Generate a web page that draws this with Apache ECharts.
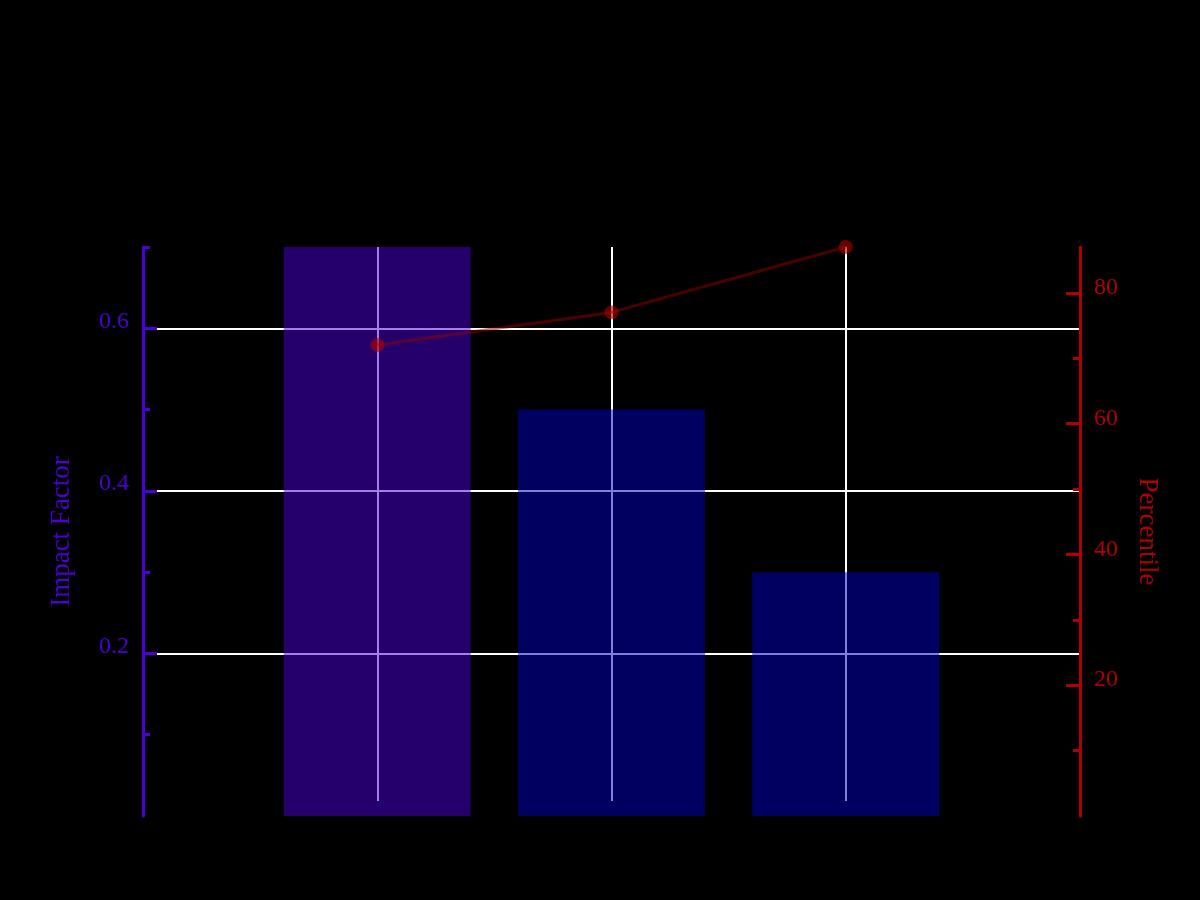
<!DOCTYPE html>
<html>
<head>
<meta charset="utf-8">
<title>Impact Factor vs Percentile</title>
<script src="https://cdn.jsdelivr.net/npm/echarts@6/dist/echarts.min.js"></script>
<style>
  html, body { margin: 0; padding: 0; background: #000; }
  #chart { width: 1200px; height: 900px; }
</style>
</head>
<body>
<div id="chart"></div>
<script>
// x slots of the three bars
const slots = [1, 2, 3];
const impactFactor = [0.7, 0.5, 0.3];
const percentile = [72, 77, 87];
const barColors = ['rgba(76, 0, 212, 0.5)', 'rgba(0, 0, 192, 0.5)', 'rgba(0, 0, 192, 0.5)'];

const leftMajor = [0.2, 0.4, 0.6];
const leftMinor = [0.1, 0.3, 0.5, 0.7];
const rightMajor = [20, 40, 60, 80];
const rightMinor = [10, 30, 50, 70];

const purple = '#4b00d6';
const red = '#b00000';
const font = '"Liberation Serif", "Times New Roman", serif';
const pMax = Math.max(...percentile);

function pairs(xs, ys) {
  return xs.map((x, i) => [x, ys[i]]);
}

const chart = echarts.init(document.getElementById('chart'));

chart.setOption({
  backgroundColor: '#000',
  animation: false,
  grid: [
    { left: 143, right: 120, top: 247, bottom: 84 },
    { left: 143, right: 120, top: 247, bottom: 99 }
  ],
  xAxis: [
    { type: 'value', gridIndex: 0, min: 0, max: 4, show: false },
    {
      type: 'value', gridIndex: 1, min: 0, max: 4, interval: 1,
      axisLine: { show: false }, axisTick: { show: false }, axisLabel: { show: false },
      splitLine: { show: true, showMinLine: false, showMaxLine: false, lineStyle: { color: '#fff', width: 2 } }
    }
  ],
  yAxis: [
    {
      type: 'value', gridIndex: 0, position: 'left', min: 0, max: 0.7,
      name: 'Impact Factor', nameLocation: 'middle', nameGap: 68,
      nameTextStyle: { color: purple, fontFamily: font, fontSize: 27 },
      axisLine: { show: true, lineStyle: { color: purple, width: 3 } },
      axisTick: { show: true, inside: true, length: 14, customValues: leftMajor, lineStyle: { color: purple, width: 3 } },
      axisLabel: { color: purple, fontFamily: font, fontSize: 24, margin: 14, verticalAlign: 'bottom', lineHeight: 14, customValues: leftMajor },
      splitLine: { show: true, lineStyle: { color: '#fff', width: 2 } }
    },
    {
      type: 'value', gridIndex: 0, position: 'left', min: 0, max: 0.7,
      axisLine: { show: false },
      axisTick: { show: true, inside: true, length: 7, customValues: leftMinor, lineStyle: { color: purple, width: 3 } },
      axisLabel: { show: false },
      splitLine: { show: false }
    },
    {
      type: 'value', gridIndex: 0, position: 'right', min: 0, max: pMax,
      name: 'Percentile', nameLocation: 'middle', nameGap: 54, nameRotate: -90,
      nameTextStyle: { color: red, fontFamily: font, fontSize: 27 },
      axisLine: { show: true, lineStyle: { color: red, width: 3 } },
      axisTick: { show: true, inside: true, length: 14, customValues: rightMajor, lineStyle: { color: red, width: 3 } },
      axisLabel: { color: red, fontFamily: font, fontSize: 24, margin: 14, verticalAlign: 'bottom', lineHeight: 10, customValues: rightMajor },
      splitLine: { show: false }
    },
    {
      type: 'value', gridIndex: 0, position: 'right', min: 0, max: pMax,
      axisLine: { show: false },
      axisTick: { show: true, inside: true, length: 7, customValues: rightMinor, lineStyle: { color: red, width: 3 } },
      axisLabel: { show: false },
      splitLine: { show: false }
    },
    { type: 'value', gridIndex: 1, min: 0, max: 1, show: false }
  ],
  series: [
    {
      type: 'bar',
      xAxisIndex: 0,
      yAxisIndex: 0,
      barWidth: 187,
      data: slots.map((x, i) => ({ value: [x, impactFactor[i]], itemStyle: { color: barColors[i] } }))
    },
    {
      type: 'line',
      xAxisIndex: 0,
      yAxisIndex: 2,
      data: pairs(slots, percentile),
      symbol: 'circle',
      symbolSize: 14,
      lineStyle: { color: 'rgba(150, 0, 0, 0.5)', width: 3 },
      itemStyle: { color: 'rgba(175, 0, 0, 0.6)' }
    }
  ]
});
</script>
</body>
</html>
